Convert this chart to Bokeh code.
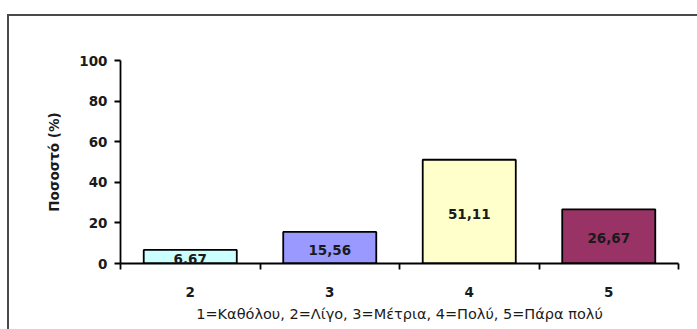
from bokeh.plotting import figure
from bokeh.models import FixedTicker, ColumnDataSource, Range1d, LabelSet, InlineStyleSheet
from bokeh.core.properties import value
from bokeh.embed import file_html
from bokeh.resources import INLINE

categories = [2, 3, 4, 5]
values = [6.67, 15.56, 51.11, 26.67]
labels = ["6,67", "15,56", "51,11", "26,67"]
colors = ["#CCFFFF", "#9999FF", "#FFFFCC", "#993366"]
y_ticks = [0, 20, 40, 60, 80, 100]
x_title = "1=Καθόλου, 2=Λίγο, 3=Μέτρια, 4=Πολύ, 5=Πάρα πολύ"
y_title = "Ποσοστό (%)"

FONT = "DejaVu Sans"
TXT = "#1a1a1a"

src = ColumnDataSource(dict(x=categories, top=values, mid=[v / 2 for v in values],
                            lab=labels, color=colors))

p = figure(width=697, height=329, output_backend="svg", toolbar_location=None,
           x_range=Range1d(min(categories) - 0.5, max(categories) + 0.5),
           y_range=Range1d(0, 100),
           min_border_left=120, min_border_right=19, min_border_top=60, min_border_bottom=66)

p.vbar(x="x", top="top", width=0.667, bottom=0, source=src, fill_color="color",
       line_color="#000000", line_width=1.8)

p.add_layout(LabelSet(x="x", y="mid", text="lab", source=src, text_align="center",
                      text_baseline="middle", text_font=value(FONT), text_font_size="13.5px",
                      text_font_style="bold", text_color=TXT, y_offset=-2))

p.grid.visible = False
p.outline_line_color = None
p.background_fill_color = "white"
p.border_fill_color = "white"

ya = p.yaxis[0]
ya.ticker = FixedTicker(ticks=y_ticks)
ya.minor_tick_line_color = None
ya.major_tick_out = 6
ya.major_tick_in = 0
ya.axis_line_width = 1.8
ya.major_tick_line_width = 1.8
ya.axis_line_color = "#000000"
ya.major_label_text_font = FONT
ya.major_label_text_font_size = "13.5px"
ya.major_label_text_font_style = "bold"
ya.major_label_text_color = TXT
ya.major_label_standoff = 7
ya.axis_label = y_title
ya.axis_label_text_font = FONT
ya.axis_label_text_font_size = "13.5px"
ya.axis_label_text_font_style = "bold"
ya.axis_label_text_color = TXT
ya.axis_label_standoff = 14

xa = p.xaxis[0]
xa.ticker = FixedTicker(ticks=categories, minor_ticks=[c - 0.5 for c in categories] + [max(categories) + 0.5])
xa.major_tick_line_color = None
xa.major_tick_out = 0
xa.major_tick_in = 0
xa.minor_tick_out = 6
xa.minor_tick_in = 0
xa.minor_tick_line_width = 1.8
xa.minor_tick_line_color = "#000000"
xa.axis_line_width = 1.8
xa.axis_line_color = "#000000"
xa.major_label_text_font = FONT
xa.major_label_text_font_size = "13.5px"
xa.major_label_text_font_style = "bold"
xa.major_label_text_color = TXT
xa.major_label_standoff = 17
xa.axis_label = x_title
xa.axis_label_text_font = FONT
xa.axis_label_text_font_size = "14.5px"
xa.axis_label_text_font_style = "normal"
xa.axis_label_text_color = TXT
xa.axis_label_standoff = 6

p.stylesheets = [InlineStyleSheet(css="""
:host { position: relative; }
:host::after {
  content: "";
  position: absolute;
  left: 7px; top: 14px; right: 0px; bottom: 0px;
  border-top: 2.5px solid #4a4a4a;
  border-left: 2.5px solid #4a4a4a;
  pointer-events: none;
  z-index: 100;
}
""")]

open("out.html", "w").write(file_html(p, INLINE))
